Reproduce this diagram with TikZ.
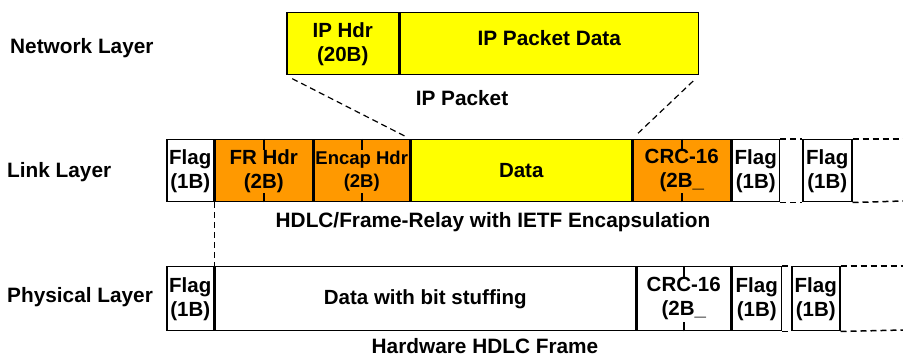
\documentclass[tikz,border=0pt]{standalone}
\usepackage{fontspec}
\setmainfont{Liberation Sans}
\usepackage{xcolor}
\usetikzlibrary{positioning,calc}

\definecolor{ipyellow}{RGB}{255,255,0}
\definecolor{frorange}{RGB}{255,153,0}

\tikzset{
  field/.style={draw=black, line width=1.5pt, inner sep=0pt, align=center,
    font=\bfseries\fontsize{20.5}{24}\selectfont},
  lbl/.style={inner sep=0pt, font=\bfseries\fontsize{20.8}{24}\selectfont},
  gapline/.style={line width=1.5pt, dash pattern=on 6pt off 4pt},
  guide/.style={line width=1.2pt, dash pattern=on 6pt off 4pt},
  midtick/.style={draw=black, line width=2pt},
}

\begin{document}
\begin{tikzpicture}[x=1pt, y=-1pt]
    \useasboundingbox (0,0) rectangle (903,358);

    % Layer names
    \node[lbl, anchor=west] (netlayer) at (10,48) {Network Layer};
    \node[lbl, anchor=west] (linklayer) at (7,172) {Link Layer};
    \node[lbl, anchor=west] (physlayer) at (7,297) {Physical Layer};

    % Network layer: IP packet
    \node[field, fill=ipyellow, anchor=north west, minimum width=112pt, minimum height=62pt] (iphdr) at (286,12) {IP Hdr\\(20B)};
    \node[field, fill=ipyellow, minimum width=298pt, minimum height=62pt, right=0pt of iphdr] (ipdata) {};
    \node[lbl] (ipdatatxt) at ([yshift=6pt]ipdata.center) {IP Packet Data};
    \node[lbl] (ipcap) at (462,98) {IP Packet};

    % Link layer: HDLC / Frame-Relay frame
    \node[field, anchor=north west, minimum width=47pt, minimum height=62pt] (lflag) at (166,139) {Flag\\(1B)};
    \node[field, fill=frorange, minimum width=97pt, minimum height=62pt, right=0pt of lflag] (frhdr) {FR Hdr\\(2B)};
    \node[field, fill=frorange, minimum width=96pt, minimum height=62pt, right=0pt of frhdr,
          font=\bfseries\fontsize{18.5}{23}\selectfont] (encap) {Encap Hdr\\(2B)};
    \node[field, fill=ipyellow, minimum width=220pt, minimum height=62pt, right=0pt of encap] (ldata) {Data};
    \node[field, fill=frorange, minimum width=98pt, minimum height=62pt, right=0pt of ldata] (lcrc) {CRC-16\\(2B\_};
    \node[field, minimum width=47pt, minimum height=62pt, right=0pt of lcrc] (lflag2) {Flag\\(1B)};
    \node[field, minimum width=49pt, minimum height=62pt, right=22pt of lflag2] (lflag3) {Flag\\(1B)};
    \coordinate (ltopend) at (903,139);
    \coordinate (lbotend) at (903,201);
    \draw[gapline] (lflag2.north east) -- (lflag3.north west);
    \draw[gapline] (lflag2.south east) -- (lflag3.south west);
    \draw[gapline] (lflag3.north east) -- (ltopend);
    \draw[gapline] (lflag3.south east) -- (lbotend);
    \node[lbl] (linkcap) at (493,222) {HDLC/Frame-Relay with IETF Encapsulation};

    % Physical layer: hardware HDLC frame
    \node[field, anchor=north west, minimum width=47pt, minimum height=64pt] (pflag) at (166,266) {Flag\\(1B)};
    \node[field, minimum width=420pt, minimum height=64pt, right=0pt of pflag] (pdata) {Data with bit stuffing};
    \node[field, minimum width=94pt, minimum height=64pt, right=0pt of pdata] (pcrc) {CRC-16\\(2B\_};
    \node[field, minimum width=49pt, minimum height=64pt, right=0pt of pcrc] (pflag2) {Flag\\(1B)};
    \node[field, minimum width=48pt, minimum height=64pt, right=9pt of pflag2] (pflag3) {Flag\\(1B)};
    \coordinate (ptopend) at (903,266);
    \coordinate (pbotend) at (903,330);
    \draw[gapline] (pflag2.north east) -- (pflag3.north west);
    \draw[gapline] (pflag2.south east) -- (pflag3.south west);
    \draw[gapline] (pflag3.north east) -- (ptopend);
    \draw[gapline] (pflag3.south east) -- (pbotend);
    \node[lbl] (physcap) at (485,346) {Hardware HDLC Frame};

    % Mid ticks on the 2-byte fields
    \foreach \fld in {frhdr,encap,lcrc,pcrc} {
        \draw[midtick] (\fld.north) -- ([yshift=-11pt]\fld.north);
        \draw[midtick] (\fld.south) -- ([yshift=9pt]\fld.south);
    }

    % Mapping between layers
    \draw[guide, shorten <=7pt, shorten >=5pt] (iphdr.south west) -- (ldata.north west);
    \draw[guide, shorten <=8pt, shorten >=5pt] (ipdata.south east) -- (ldata.north east);
    \draw[guide] (lflag.south east) -- (pflag.north east);

\end{tikzpicture}
\end{document}
